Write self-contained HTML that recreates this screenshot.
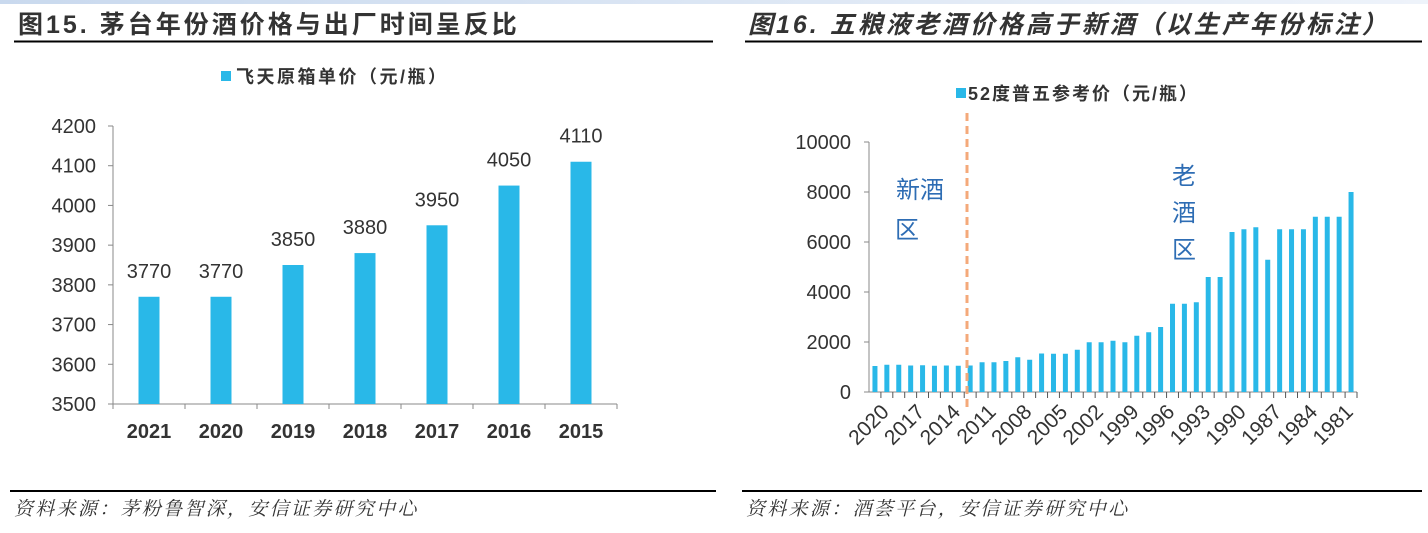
<!DOCTYPE html>
<html><head><meta charset="utf-8"><style>
body{margin:0;width:1428px;height:533px;background:#fff;overflow:hidden;font-family:"Liberation Sans","Noto Sans CJK SC",sans-serif}
svg{display:block}
</style></head><body>
<svg id="s" width="1428" height="533" xmlns="http://www.w3.org/2000/svg">
<defs><linearGradient id="g" x1="0" x2="1"><stop offset="0" stop-color="#c9d9ee"/><stop offset="1" stop-color="#eef3fa"/></linearGradient></defs>
<rect x="0" y="0" width="1428" height="4" fill="url(#g)"/>
<text x="18" y="33" font-size="25" font-weight="bold" letter-spacing="3" fill="#333">图15. 茅台年份酒价格与出厂时间呈反比</text>
<line x1="14" y1="41.5" x2="713" y2="41.5" stroke="#000" stroke-width="2"/>
<text x="748" y="33" font-size="25" font-weight="bold" font-style="italic" letter-spacing="3" fill="#333">图16. 五粮液老酒价格高于新酒（以生产年份标注）</text>
<line x1="745" y1="41.5" x2="1422" y2="41.5" stroke="#000" stroke-width="2"/>
<line x1="10" y1="491" x2="716" y2="491" stroke="#000" stroke-width="2"/>
<text x="14" y="515" font-size="19" font-style="italic" letter-spacing="2.3" fill="#333" font-family="'Liberation Serif','Noto Serif CJK SC',serif">资料来源：茅粉鲁智深，安信证券研究中心</text>
<line x1="742" y1="491" x2="1422" y2="491" stroke="#000" stroke-width="2"/>
<text x="746" y="515" font-size="19" font-style="italic" letter-spacing="2.3" fill="#333" font-family="'Liberation Serif','Noto Serif CJK SC',serif">资料来源：酒荟平台，安信证券研究中心</text>
<g id="L"></g><g id="R"></g>
</svg>
<script>
const leftCats=["2021","2020","2019","2018","2017","2016","2015"];
const leftVals=[3770,3770,3850,3880,3950,4050,4110];
const leftTicks=[3500,3600,3700,3800,3900,4000,4100,4200];
const rightCats=[];for(let y=2020;y>=1980;y--)rightCats.push(String(y));
const rightVals=[1040,1090,1090,1060,1070,1050,1060,1050,1060,1190,1190,1240,1390,1290,1540,1530,1530,1690,1990,1990,2050,1990,2250,2390,2600,3530,3530,3590,4600,4600,6400,6510,6590,5290,6510,6510,6510,7010,7010,7010,8000];
const rightTicks=[0,2000,4000,6000,8000,10000];
const NS="http://www.w3.org/2000/svg";
function mk(p,t,a,txt){const e=document.createElementNS(NS,t);for(const k in a)e.setAttribute(k,a[k]);if(txt!=null)e.textContent=txt;p.appendChild(e);return e;}
(function(){
const g=document.getElementById('L');
const x0=113,x1=617,yb=404,yt=126,vmin=3500,vmax=4200;
const y=v=>yb-(v-vmin)/(vmax-vmin)*(yb-yt);
const bw=(x1-x0)/leftCats.length;
let e=mk(g,'rect',{x:221,y:71,width:10,height:10,fill:'#29b8e8'});

e=mk(g,'text',{x:236,y:83,'font-size':18,'font-weight':'bold','letter-spacing':2.5,fill:'#333'},'飞天原箱单价（元/瓶）');

leftTicks.forEach(t=>{const el=mk(g,'text',{x:96,y:y(t)+7,'font-size':20,'text-anchor':'end',fill:'#333'},t);

mk(g,'line',{x1:108,x2:113,y1:y(t),y2:y(t),stroke:'#888'});});
e=mk(g,'line',{x1:x0,x2:x0,y1:yt,y2:yb,stroke:'#888'});
e=mk(g,'line',{x1:x0,x2:x1,y1:yb,y2:yb,stroke:'#888'});
leftCats.forEach((c,i)=>{const cx=x0+bw*(i+.5);
for(const xx of [x0+bw*i,x0+bw*(i+1)])mk(g,'line',{x1:xx,x2:xx,y1:yb,y2:yb+5,stroke:'#888'});
const b=mk(g,'rect',{x:cx-10.5,y:y(leftVals[i]),width:21,height:yb-y(leftVals[i]),fill:'#29b8e8'});

const l=mk(g,'text',{x:cx,y:y(leftVals[i])-19,'font-size':20,'text-anchor':'middle',fill:'#333'},leftVals[i]);

const t=mk(g,'text',{x:cx,y:438,'font-size':20,'font-weight':'bold','text-anchor':'middle',fill:'#333'},c);
});
})();
(function(){
const g=document.getElementById('R');
const x0=869,x1=1357,yb=392,yt=142,vmax=10000;
const y=v=>yb-v/vmax*(yb-yt);
const bw=(x1-x0)/rightCats.length;
let e=mk(g,'rect',{x:956,y:88,width:10,height:10,fill:'#29b8e8'});

e=mk(g,'text',{x:968,y:100,'font-size':18,'font-weight':'bold','letter-spacing':2,fill:'#333'},'52度普五参考价（元/瓶）');

rightTicks.forEach(t=>{const el=mk(g,'text',{x:851,y:y(t)+7,'font-size':20,'text-anchor':'end',fill:'#333'},t);

mk(g,'line',{x1:864,x2:869,y1:y(t),y2:y(t),stroke:'#888'});});
e=mk(g,'line',{x1:x0,x2:x0,y1:yt,y2:yb,stroke:'#888'});
e=mk(g,'line',{x1:x0,x2:x1,y1:yb,y2:yb,stroke:'#888'});
rightCats.forEach((c,i)=>{const cx=x0+bw*(i+.5);
mk(g,'line',{x1:x0+bw*(i+1),x2:x0+bw*(i+1),y1:yb,y2:yb+6,stroke:'#555'});
const b=mk(g,'rect',{x:cx-2.5,y:y(rightVals[i]),width:5,height:yb-y(rightVals[i]),fill:'#29b8e8'});

if(i%3===0){const tx=cx+4,ty=402;
const t=mk(g,'text',{x:tx,y:ty,'font-size':21,'text-anchor':'end',fill:'#333',transform:`rotate(-45 ${tx} ${ty})`,dy:'0.75em'},c);
}});
e=mk(g,'line',{x1:967,x2:967,y1:113,y2:407,stroke:'#f4a97a','stroke-width':3,'stroke-dasharray':'8,5'});

e=mk(g,'text',{x:920,y:198,'font-size':24,'text-anchor':'middle',fill:'#2e6db4'},'新酒');

e=mk(g,'text',{x:907,y:238,'font-size':24,'text-anchor':'middle',fill:'#2e6db4'},'区');

['老','酒','区'].forEach((ch,k)=>{const t=mk(g,'text',{x:1184,y:184+k*37,'font-size':24,'text-anchor':'middle',fill:'#2e6db4'},ch);
});
})();
</script>
</body></html>
